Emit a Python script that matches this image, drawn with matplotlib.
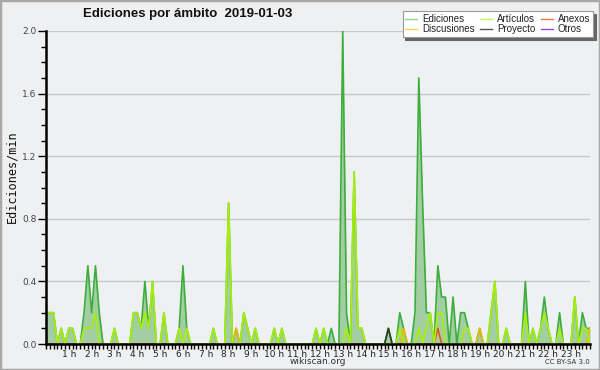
import numpy as np
import matplotlib
matplotlib.use('Agg')
import matplotlib.pyplot as plt
from matplotlib.lines import Line2D
from matplotlib.patches import Rectangle

# 10-minute slots, 00:00 .. 23:50 (144 values), edits per minute
ediciones = [
    0.2, 0.2, 0.2, 0.0, 0.1, 0.0, 0.1, 0.1, 0.0, 0.0, 0.2, 0.5,
    0.2, 0.5, 0.2, 0.0, 0.0, 0.0, 0.1, 0.0, 0.0, 0.0, 0.0, 0.2,
    0.2, 0.1, 0.4, 0.1, 0.4, 0.0, 0.0, 0.2, 0.0, 0.0, 0.0, 0.1,
    0.5, 0.1, 0.0, 0.0, 0.0, 0.0, 0.0, 0.0, 0.1, 0.0, 0.0, 0.0,
    0.9, 0.0, 0.1, 0.0, 0.2, 0.1, 0.0, 0.1, 0.0, 0.0, 0.0, 0.0,
    0.1, 0.0, 0.1, 0.0, 0.0, 0.0, 0.0, 0.0, 0.0, 0.0, 0.0, 0.1,
    0.0, 0.1, 0.0, 0.1, 0.0, 0.0, 2.0, 0.2, 0.0, 1.1, 0.1, 0.1,
    0.0, 0.0, 0.0, 0.0, 0.0, 0.0, 0.1, 0.0, 0.0, 0.2, 0.1, 0.0,
    0.0, 0.2, 1.7, 0.9, 0.2, 0.2, 0.0, 0.5, 0.3, 0.3, 0.0, 0.3,
    0.0, 0.2, 0.2, 0.1, 0.0, 0.0, 0.1, 0.0, 0.0, 0.2, 0.4, 0.0,
    0.0, 0.1, 0.0, 0.0, 0.0, 0.0, 0.4, 0.0, 0.1, 0.0, 0.1, 0.3,
    0.1, 0.0, 0.0, 0.2, 0.0, 0.0, 0.0, 0.3, 0.0, 0.2, 0.1, 0.1,
]
articulos = [
    0.2, 0.2, 0.2, 0.0, 0.1, 0.0, 0.1, 0.1, 0.0, 0.0, 0.1, 0.1,
    0.1, 0.2, 0.0, 0.0, 0.0, 0.0, 0.1, 0.0, 0.0, 0.0, 0.0, 0.2,
    0.2, 0.1, 0.2, 0.1, 0.4, 0.0, 0.0, 0.2, 0.0, 0.0, 0.0, 0.1,
    0.0, 0.1, 0.0, 0.0, 0.0, 0.0, 0.0, 0.0, 0.1, 0.0, 0.0, 0.0,
    0.9, 0.0, 0.0, 0.0, 0.2, 0.1, 0.0, 0.1, 0.0, 0.0, 0.0, 0.0,
    0.1, 0.0, 0.1, 0.0, 0.0, 0.0, 0.0, 0.0, 0.0, 0.0, 0.0, 0.1,
    0.0, 0.1, 0.0, 0.0, 0.0, 0.0, 0.0, 0.1, 0.0, 1.1, 0.1, 0.1,
    0.0, 0.0, 0.0, 0.0, 0.0, 0.0, 0.0, 0.0, 0.0, 0.1, 0.0, 0.0,
    0.0, 0.0, 0.1, 0.0, 0.1, 0.2, 0.0, 0.2, 0.2, 0.0, 0.0, 0.0,
    0.0, 0.0, 0.1, 0.1, 0.0, 0.0, 0.0, 0.0, 0.0, 0.2, 0.4, 0.0,
    0.0, 0.1, 0.0, 0.0, 0.0, 0.0, 0.2, 0.0, 0.1, 0.0, 0.1, 0.2,
    0.1, 0.0, 0.0, 0.1, 0.0, 0.0, 0.0, 0.3, 0.0, 0.1, 0.1, 0.0,
]
# sparse series: slot -> value
discusiones = {50: 0.1, 94: 0.1, 114: 0.1, 143: 0.1}
anexos = {103: 0.1}
proyecto = {90: 0.1}
otros = {}

hour_labels = ['%d h' % h for h in range(1, 24)]
legend_labels = ['Ediciones', 'Discusiones', 'Artículos', 'Proyecto', 'Anexos', 'Otros']
legend_colors = ['#8fd88f', '#ffd24a', '#c6f060', '#555555', '#ff7a4a', '#9a4ae0']


def sparse(d, n=144):
    s = np.zeros(n)
    for k, v in d.items():
        s[k] = v
    return s


bg = '#eff0f2'
slots = np.arange(len(ediciones))

fig = plt.figure(figsize=(6, 3.7), dpi=100, facecolor=bg)
ax = fig.add_axes([46/600, 26/370, 544/600, 313/370], facecolor=bg)

ax.fill_between(slots, ediciones, color='#a3cea3', lw=0, zorder=1)
ax.plot(slots, ediciones, color='#3cae3c', lw=1.2, zorder=2)
ax.plot(slots, sparse(proyecto), color='#2a3a2a', lw=1.2, zorder=2)
ax.plot(slots, sparse(discusiones), color='#f2b800', lw=1.2, zorder=2)
ax.plot(slots, sparse(anexos), color='#ee5020', lw=1.2, zorder=2)
ax.plot(slots, articulos, color='#a6ee10', lw=1.3, zorder=2)

ax.set_xlim(0, 143)
ax.set_ylim(0, 2.0)
ax.set_xticks(np.arange(6, 144, 6))
ax.set_xticklabels(hour_labels)
ax.set_xticks(np.arange(0, 144), minor=True)
ax.set_yticks(np.arange(0, 2.01, 0.4))
ax.set_yticklabels(['%.1f' % v for v in np.arange(0, 2.01, 0.4)])
ax.set_yticks(np.arange(0, 2.01, 0.1), minor=True)

for y in np.arange(0.4, 2.01, 0.4):
    ax.axhline(y, color='#c8c8c8', lw=1, zorder=0.5)

for s in ['top', 'right']:
    ax.spines[s].set_visible(False)
for s in ['left', 'bottom']:
    ax.spines[s].set_linewidth(1.8)
    ax.spines[s].set_color('black')

ax.tick_params(axis='x', which='both', length=3.5, width=1, direction='out',
               labelsize=6.5, labelcolor='#222222', pad=0.5)
ax.tick_params(axis='y', which='major', length=6, width=1, labelsize=6.5,
               labelcolor='#444444', pad=1)
ax.tick_params(axis='y', which='minor', length=3.5, width=1)

fig.text(12/600, 1-177/370, 'Ediciones/min', rotation=90, ha='center', va='center',
         family='DejaVu Sans Mono', fontsize=8.5, color='#111111')

fig.text(0.313, 0.962, 'Ediciones por ámbito  2019-01-03', ha='center', va='center',
         fontsize=9.5, fontweight='bold', family='Liberation Sans', color='#111111')
fig.text(318/600, 1-362/370, 'wikiscan.org', ha='center', va='center',
         fontsize=6.5, color='#333333')
fig.text(590/600, 1-362/370, 'CC BY-SA 3.0', ha='right', va='center',
         fontsize=5, color='#333333')

handles = [Line2D([], [], color=c, lw=1) for c in legend_colors]
leg = fig.legend(handles, legend_labels, ncol=3, loc='upper right',
                 bbox_to_anchor=(593/600, 1-11/370), frameon=True, fancybox=False,
                 framealpha=1, edgecolor='#999999', facecolor='white',
                 shadow={'color': '#666666', 'alpha': 1},
                 prop={'family': 'Liberation Sans', 'size': 7},
                 handlelength=1.2, handletextpad=0.5, columnspacing=0.6,
                 borderpad=0.3, labelspacing=0.05, borderaxespad=0)
leg.get_frame().set_linewidth(0.8)
for t in leg.get_texts():
    t.set_color('#222222')

fig.patches.append(Rectangle((0, 0), 1, 1, transform=fig.transFigure, fill=False,
                             edgecolor='#a8a8a8', lw=2.5))

fig.savefig('out.png', dpi=100, facecolor=bg)
